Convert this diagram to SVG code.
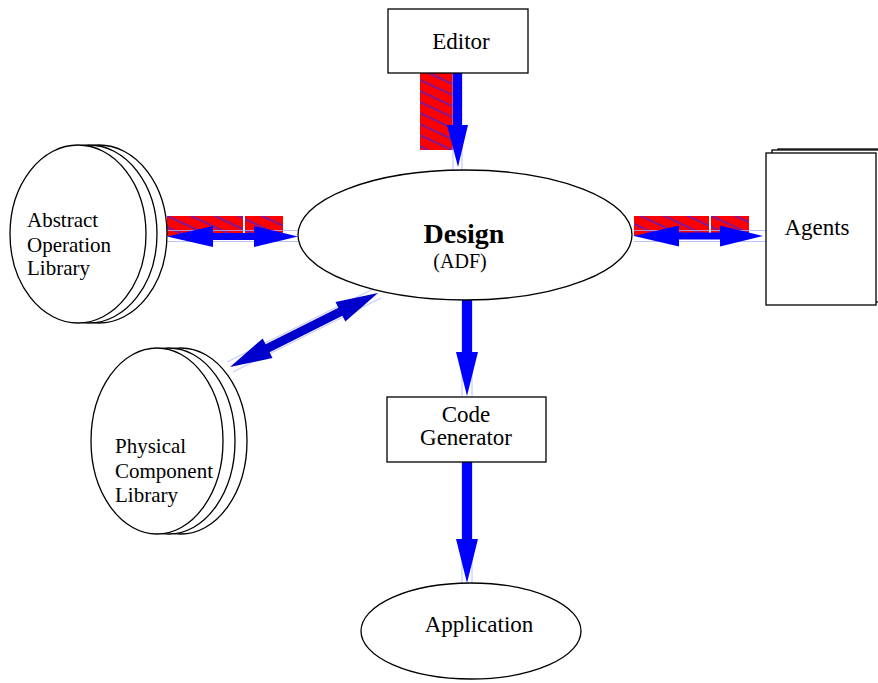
<svg xmlns="http://www.w3.org/2000/svg" width="878" height="683" viewBox="0 0 878 683">
<style>
.n{fill:#fff;stroke:#000;stroke-width:1.3}
.t{font-family:"Liberation Serif",serif;fill:#000}
.a{fill:#0000ff}
.d{fill:#0000cc}
.g{stroke:#aab0ff;stroke-width:0.8;fill:none}
.h{fill:url(#hatch)}
</style>
<defs>
<pattern id="hatch" patternUnits="userSpaceOnUse" width="20" height="10" patternTransform="rotate(25)">
<rect width="20" height="10" fill="#ff0000"/>
<line x1="0" y1="5" x2="20" y2="5" stroke="#2828ff" stroke-width="1.2"/>
</pattern>
</defs>
<rect width="878" height="683" fill="#fff"/>

<g id="connectors">
<rect class="h" x="420" y="73" width="33" height="77"/>
<rect class="h" x="167" y="216" width="76" height="20"/>
<rect class="h" x="245" y="216" width="38" height="20"/>
<rect class="h" x="634" y="216" width="75" height="20"/>
<rect class="h" x="711" y="216" width="38" height="20"/>
<path class="g" d="M453,73V170M462,73V170"/>
<path class="g" d="M167,230.5H298M167,241.5H298"/>
<path class="g" d="M634,230.5H766M634,241.5H766"/>
<path class="g" d="M462,300V397M472,300V397"/>
<path class="g" d="M462,462V584M472,462V584"/>
<path class="g" d="M227,362L375,288M233,372L381,298"/>
<polygon class="a" points="453,73 462,73 462,125 468,125 458,167 447,125 453,125"/>
<polygon class="a" points="167,236.5 213,226 213,233 254,233 254,226 298,236.5 254,247 254,240 213,240 213,247"/>
<polygon class="a" points="634,236 679,225.5 679,232.5 720,232.5 720,225.5 763,236 720,246.5 720,239.5 679,239.5 679,246.5"/>
<polygon class="a" points="462,300 472,300 472,352 478,352 467,396 456,352 462,352"/>
<polygon class="a" points="462,462 472,462 472,539 478,539 467,583 456,539 462,539"/>
<polygon class="d" points="230,367 272.5,358 269.6,352.2 342.4,315.8 345.3,321.6 378,293 335.5,302 338.4,307.8 265.6,344.2 262.7,338.4"/>
</g>

<g id="editor">
<rect class="n" x="388" y="9" width="140" height="64"/>
<text class="t" x="461" y="49" font-size="23" text-anchor="middle">Editor</text>
</g>

<g id="design">
<ellipse class="n" cx="465" cy="235" rx="167" ry="65"/>
<text class="t" x="464" y="243" font-size="28" font-weight="bold" text-anchor="middle">Design</text>
<text class="t" x="460" y="268" font-size="20" text-anchor="middle">(ADF)</text>
</g>

<g id="abstract-library">
<ellipse class="n" cx="99" cy="234" rx="68" ry="89"/>
<ellipse class="n" cx="89" cy="234" rx="68" ry="89"/>
<ellipse class="n" cx="78" cy="234" rx="68" ry="89"/>
<text class="t" x="27" y="227" font-size="21">Abstract</text>
<text class="t" x="27" y="252" font-size="21">Operation</text>
<text class="t" x="27" y="275" font-size="21">Library</text>
</g>

<g id="physical-library">
<ellipse class="n" cx="181" cy="441" rx="66" ry="93"/>
<ellipse class="n" cx="169" cy="441" rx="66" ry="93"/>
<ellipse class="n" cx="157" cy="441" rx="66" ry="93"/>
<text class="t" x="115" y="453" font-size="21">Physical</text>
<text class="t" x="115" y="478" font-size="21">Component</text>
<text class="t" x="115" y="502" font-size="21">Library</text>
</g>

<g id="agents">
<rect class="n" x="778" y="149" width="110" height="152"/>
<rect class="n" x="772" y="150" width="110" height="152"/>
<rect class="n" x="766" y="153" width="110" height="152"/>
<text class="t" x="817" y="235" font-size="23" text-anchor="middle">Agents</text>
</g>

<g id="code-generator">
<rect class="n" x="387" y="397" width="159" height="65"/>
<text class="t" x="466" y="422" font-size="23" text-anchor="middle">Code</text>
<text class="t" x="466" y="445" font-size="23" text-anchor="middle">Generator</text>
</g>

<g id="application">
<ellipse class="n" cx="471" cy="631" rx="110" ry="48"/>
<text class="t" x="479" y="632" font-size="23" text-anchor="middle">Application</text>
</g>
</svg>
